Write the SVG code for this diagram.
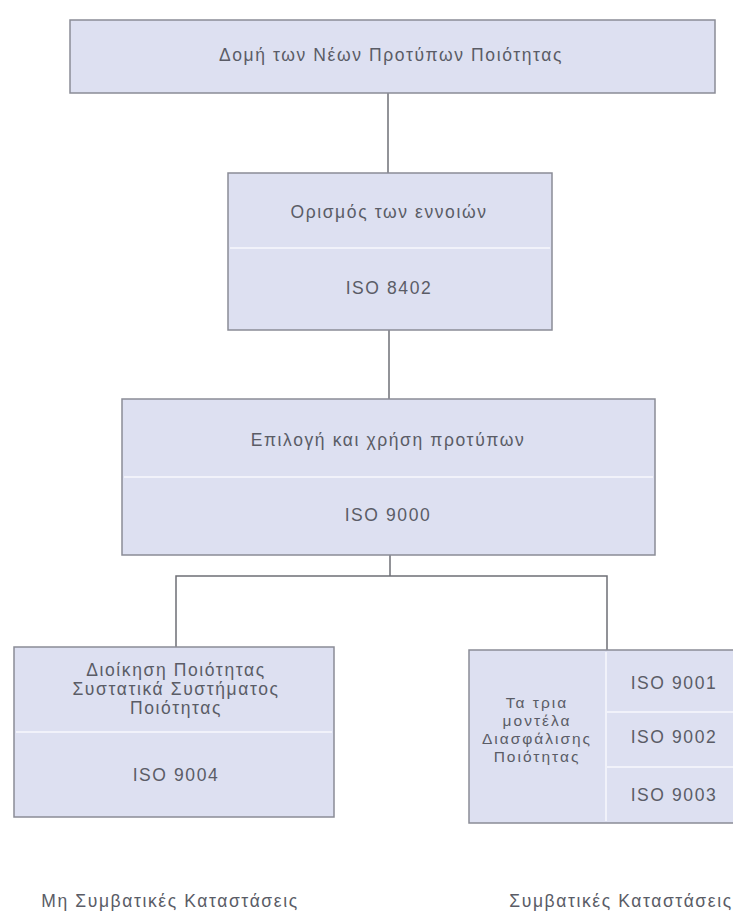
<svg xmlns="http://www.w3.org/2000/svg" width="733" height="912" viewBox="0 0 733 912">
<style>
.box{fill:#dde0f1;stroke:#8a8c96;stroke-width:1.5}
.div{stroke:#f1f2fa;stroke-width:2;fill:none}
.t{font-family:"Liberation Sans","DejaVu Sans",sans-serif;font-size:17.5px;fill:#5a5c66;text-anchor:middle;letter-spacing:1.6px}
.s{font-size:15.5px;letter-spacing:2px}
.c{stroke:#6e6f76;stroke-width:1.5;fill:none}
</style>
<rect width="733" height="912" fill="#ffffff"/>
<g id="connectors">
<line class="c" x1="388" y1="93" x2="388" y2="173"/>
<line class="c" x1="389" y1="330" x2="389" y2="399"/>
<polyline class="c" points="390,555 390,576"/>
<polyline class="c" points="176,647 176,576 607,576 607,650"/>
</g>
<g id="top">
<rect class="box" x="70" y="20" width="645" height="73"/>
<text class="t" x="391" y="61">Δομή των Νέων Προτύπων Ποιότητας</text>
</g>
<g id="iso8402">
<rect class="box" x="228" y="173" width="324" height="157"/>
<line class="div" x1="230" y1="248" x2="550" y2="248"/>
<text class="t" x="389" y="218">Ορισμός των εννοιών</text>
<text class="t" x="389" y="294">ISO 8402</text>
</g>
<g id="iso9000">
<rect class="box" x="122" y="399" width="533" height="156"/>
<line class="div" x1="124" y1="477" x2="653" y2="477"/>
<text class="t" x="388" y="446">Επιλογή και χρήση προτύπων</text>
<text class="t" x="388" y="521">ISO 9000</text>
</g>
<g id="iso9004">
<rect class="box" x="14" y="647" width="320" height="170"/>
<line class="div" x1="16" y1="732" x2="332" y2="732"/>
<text class="t" x="176" y="676">Διοίκηση Ποιότητας</text>
<text class="t" x="176" y="695">Συστατικά Συστήματος</text>
<text class="t" x="176" y="714">Ποιότητας</text>
<text class="t" x="176" y="781">ISO 9004</text>
</g>
<g id="models">
<rect class="box" x="469" y="650" width="272" height="173"/>
<line class="div" x1="606" y1="652" x2="606" y2="821"/>
<line class="div" x1="607" y1="712" x2="733" y2="712"/>
<line class="div" x1="607" y1="767" x2="733" y2="767"/>
<text class="t s" x="537" y="708">Τα τρια</text>
<text class="t s" x="537" y="726">μοντέλα</text>
<text class="t s" x="537" y="744">Διασφάλισης</text>
<text class="t s" x="537" y="762">Ποιότητας</text>
<text class="t" x="674" y="689">ISO 9001</text>
<text class="t" x="674" y="743">ISO 9002</text>
<text class="t" x="674" y="801">ISO 9003</text>
</g>
<g id="labels">
<text class="t" x="170" y="907">Μη Συμβατικές Καταστάσεις</text>
<text class="t" x="621" y="907">Συμβατικές Καταστάσεις</text>
</g>
</svg>
